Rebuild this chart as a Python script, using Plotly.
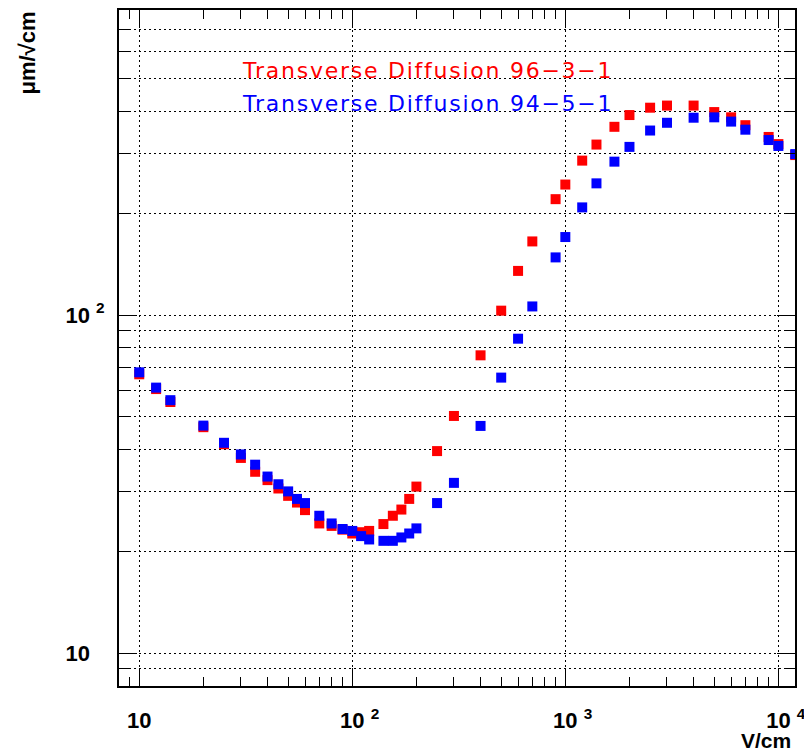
import plotly.graph_objects as go

# Field (V/cm)
field = [10, 12, 14, 20, 25, 30, 35, 40, 45, 50, 55, 60, 70, 80, 90, 100, 110, 120,
         140, 155, 170, 185, 200, 250, 300, 400, 500, 600, 700, 900, 1000, 1200,
         1400, 1700, 2000, 2500, 3000, 4000, 5000, 6000, 7000, 9000, 10000, 12000]

# Transverse diffusion (um/sqrt(cm))
diff_96_3_1 = [66.8, 60.4, 55.3, 46.6, 41.5, 37.8, 34.4, 32.5, 30.7, 29.2, 27.9, 26.5,
               24.2, 23.8, 23.2, 22.6, 22.8, 23.0, 24.1, 25.5, 26.6, 28.6, 31.1, 39.6,
               50.3, 76.0, 103, 135, 165, 220, 243, 286, 319, 360, 390, 410, 416, 416,
               398, 384, 364, 336, 320, 297]
diff_94_5_1 = [67.7, 61.0, 56.0, 47.1, 41.9, 38.7, 36.1, 33.3, 31.6, 30.1, 28.6, 27.8,
               25.5, 24.2, 23.3, 23.0, 22.2, 21.7, 21.5, 21.5, 22.0, 22.6, 23.4, 27.8,
               31.9, 47.0, 65.3, 85.1, 106, 148, 170, 208, 245, 284, 314, 351, 370, 383,
               384, 373, 353, 329, 316, 299]

series_names = ["Transverse Diffusion 96\u22123\u22121", "Transverse Diffusion 94\u22125\u22121"]
series_colors = ["#ff0000", "#0000ff"]

x_major = [10, 100, 1000, 10000]
x_major_text = ["<b>10</b>",
                "<b><sup><span style='color:rgba(0,0,0,0)'>2</span></sup> 10 <sup>2</sup></b>",
                "<b><sup><span style='color:rgba(0,0,0,0)'>3</span></sup> 10 <sup>3</sup></b>",
                "<b><sup><span style='color:rgba(0,0,0,0)'>4</span></sup> 10 <sup>4</sup></b>"]
x_minor = [9] + [m * d for d in (10, 100, 1000) for m in range(2, 10)]

y_major = [10, 100]
y_major_text = ["<b>10 <sup><span style='color:rgba(0,0,0,0)'>2</span></sup></b>",
                "<b>10 <sup>2</sup></b>"]
y_minor = [8, 9] + [m * d for d in (10, 100) for m in range(2, 10)]

fig = go.Figure()
for vals, name, col in zip([diff_96_3_1, diff_94_5_1], series_names, series_colors):
    fig.add_trace(go.Scatter(x=field, y=vals, mode="markers", name=name,
                             marker=dict(symbol="square", size=10, color=col,
                                         line=dict(width=0))))

tickfont = dict(family="Liberation Sans, Arial, sans-serif", size=22, color="black")
grid = dict(showgrid=True, gridcolor="black", gridwidth=1, griddash="2px,3px")

fig.update_xaxes(type="log", range=[0.905, 4.078], tickmode="array", tickvals=x_major,
                 ticktext=x_major_text, ticks="inside", ticklen=18, tickwidth=1,
                 tickcolor="black", showline=True, linecolor="black", linewidth=2,
                 mirror="allticks", tickfont=tickfont, ticklabelstandoff=14,
                 ticklabeloverflow="allow", zeroline=False, **grid,
                 minor=dict(tickmode="array", tickvals=x_minor, ticks="inside", ticklen=9,
                            tickcolor="black", tickwidth=1, showgrid=False))
fig.update_yaxes(type="log", range=[0.9033, 2.9016], tickmode="array", tickvals=y_major,
                 ticktext=y_major_text, ticks="inside", ticklen=18, tickwidth=1,
                 tickcolor="black", showline=True, linecolor="black", linewidth=2,
                 mirror="allticks", tickfont=tickfont, ticklabelstandoff=8,
                 ticklabeloverflow="allow", zeroline=False, **grid,
                 minor=dict(tickmode="array", tickvals=y_minor, ticks="inside", ticklen=11,
                            tickcolor="black", tickwidth=1, showgrid=True, gridcolor="black",
                            gridwidth=1, griddash="2px,3px"))

annos = [
    dict(text=series_names[0], x=0.179, y=0.9098, xanchor="left", yanchor="middle",
         font=dict(color=series_colors[0])),
    dict(text=series_names[1], x=0.179, y=0.862, xanchor="left", yanchor="middle",
         font=dict(color=series_colors[1])),
]
for a in annos:
    a["font"].update(family="DejaVu Sans", size=22)
    a["text"] = "<span style='letter-spacing:1.75px'>" + a["text"] + "</span>"
    fig.add_annotation(xref="paper", yref="paper", showarrow=False, **a)

fig.add_annotation(text="<b>V/cm</b>", xref="paper", yref="paper", x=0.997, y=-0.08,
                   xanchor="right", yanchor="middle", showarrow=False,
                   font=dict(family="Liberation Sans, Arial, sans-serif", size=21,
                             color="black"))
fig.add_annotation(text="<b>\u03bcm/\u221acm</b>", xref="paper", yref="paper", x=-0.136, y=1.0,
                   xanchor="center", yanchor="top", textangle=-90, showarrow=False,
                   font=dict(family="Liberation Sans, Arial, sans-serif", size=22,
                             color="black"))

fig.update_layout(width=804, height=755, showlegend=False,
                  margin=dict(l=119, r=9, t=10, b=69, autoexpand=False),
                  paper_bgcolor="white", plot_bgcolor="white")

fig.write_html("out.html")
